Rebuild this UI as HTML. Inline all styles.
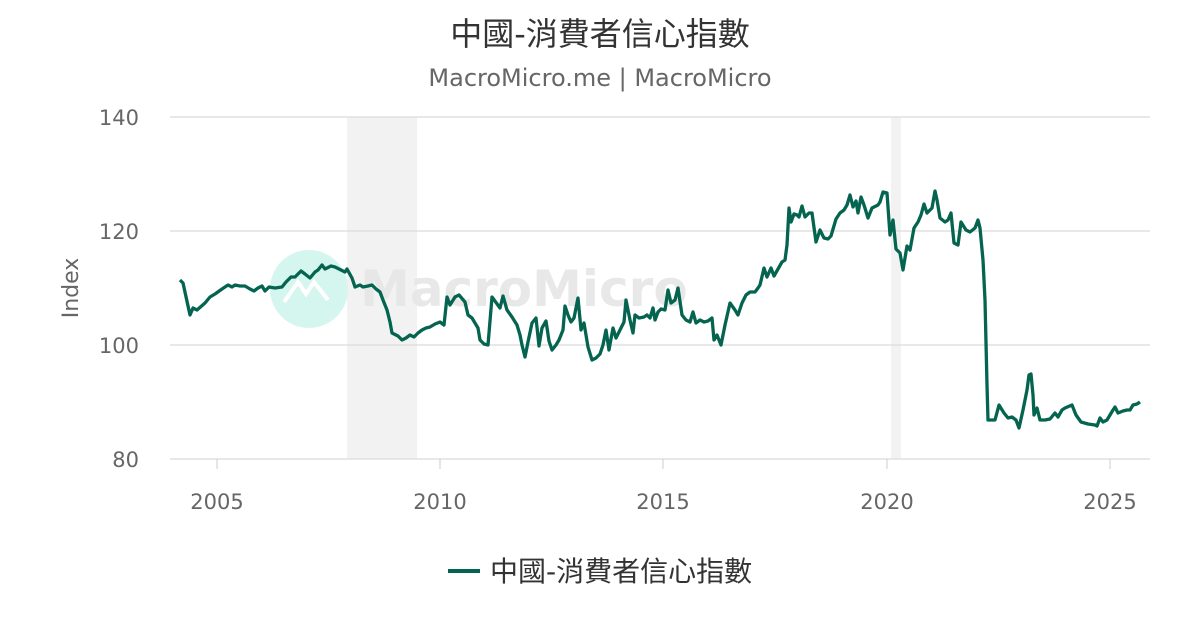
<!DOCTYPE html>
<html><head><meta charset="utf-8"><style>
body{margin:0;background:#fff;}
svg text{font-family:"DejaVu Sans","Noto Sans CJK TC",sans-serif;}
</style></head><body>
<svg width="1200" height="630" xmlns="http://www.w3.org/2000/svg">
<rect width="1200" height="630" fill="#fff"/>
<text x="600" y="45" text-anchor="middle" font-size="32" fill="#333">中國-消費者信心指數</text>
<text x="600" y="86" text-anchor="middle" font-size="24" fill="#666">MacroMicro.me | MacroMicro</text>
<rect x="347" y="117" width="70" height="342" fill="#f2f2f2"/>
<rect x="891" y="117" width="10" height="342" fill="#f2f2f2"/>
<g stroke="#e0e0e0" stroke-width="1.5">
<line x1="170" y1="117" x2="1150" y2="117"/>
<line x1="170" y1="231" x2="1150" y2="231"/>
<line x1="170" y1="345" x2="1150" y2="345"/>
<line x1="170" y1="459" x2="1150" y2="459"/>
</g>
<g stroke="#ccc" stroke-width="1">
<line x1="217" y1="459" x2="217" y2="469"/><line x1="440" y1="459" x2="440" y2="469"/>
<line x1="663" y1="459" x2="663" y2="469"/><line x1="887" y1="459" x2="887" y2="469"/>
<line x1="1110" y1="459" x2="1110" y2="469"/>
</g>
<g font-size="21" fill="#666" text-anchor="end">
<text x="139" y="125">140</text><text x="139" y="239">120</text>
<text x="139" y="353">100</text><text x="139" y="467">80</text>
</g>
<g font-size="21" fill="#666" text-anchor="middle">
<text x="217" y="509">2005</text><text x="440" y="509">2010</text>
<text x="663" y="509">2015</text><text x="887" y="509">2020</text>
<text x="1110" y="509">2025</text>
</g>
<text transform="translate(78,288) rotate(-90)" text-anchor="middle" font-size="22" fill="#666">Index</text>
<circle cx="309" cy="289" r="39" fill="#d5f5ef"/>
<path d="M284,302 L298,282 L306,294 L314,282 L328,300" stroke="#fff" stroke-width="4" fill="none"/>
<text x="360" y="306" font-size="50" font-weight="bold" fill="#e6e6e6" opacity="0.9">MacroMicro</text>
<polyline fill="none" stroke="#04644f" stroke-width="3.3" stroke-linejoin="round" points="180,280 183,283 190,315 193,308 197,310 205,303 210,297 215,294 222,289 228,285 232,287 235,285 240,286 245,286 250,289 254,291 258,288 262,286 265,291 269,287 275,288 282,287 286,282 291,277 295,277 301,271 305,274 310,278 315,272 318,270 322,265 325,269 331,266 335,267 345,272 347,269 352,278 355,287 360,285 363,287 368,286 372,285 376,289 380,292 383,300 387,310 390,322 392,333 398,336 402,340 406,338 410,335 414,337 418,333 422,330 426,328 430,327 435,324 440,322 444,325 447,297 450,305 455,297 459,295 465,302 468,315 472,318 478,328 480,340 484,344 488,345 492,297 500,308 503,296 507,310 512,317 517,325 520,335 522,345 525,357 528,342 532,323 536,318 539,346 542,328 546,321 549,341 552,350 556,345 559,340 563,330 565,306 568,315 571,322 574,318 578,298 581,330 584,323 588,347 592,360 596,358 600,354 603,345 606,330 609,350 613,328 616,338 620,330 624,322 626,300 630,320 633,333 635,315 639,318 644,317 647,315 650,318 653,308 655,320 658,312 661,309 665,310 668,290 671,303 675,300 678,288 682,315 686,320 690,322 693,312 696,323 700,320 704,322 708,321 712,318 714,340 717,335 721,345 725,325 730,303 735,310 738,315 742,303 746,295 750,292 755,292 758,288 760,285 764,268 767,277 771,268 774,276 778,269 782,262 785,260 787,245 789,208 791,222 794,214 797,215 799,217 802,206 805,217 809,213 812,213 816,242 820,230 824,238 828,239 831,236 836,219 840,213 844,210 847,205 850,195 853,207 856,201 858,213 861,197 864,205 868,218 872,208 878,205 880,202 883,192 887,193 890,235 893,220 896,249 900,253 903,270 907,246 910,250 914,228 918,222 921,215 924,204 927,213 932,208 935,191 937,200 940,218 945,222 948,220 951,213 954,243 958,245 961,222 966,230 970,232 975,228 978,220 980,228 983,260 985,300 987,385 988,420 995,420 999,405 1004,413 1008,418 1012,417 1016,420 1019,428 1023,410 1025,400 1027,390 1029,375 1031,374 1033,395 1034,415 1037,408 1040,420 1045,420 1050,419 1055,413 1058,417 1062,410 1065,408 1072,405 1076,415 1081,422 1088,424 1095,425 1097,426 1100,418 1103,422 1107,420 1113,410 1115,407 1118,413 1123,411 1127,410 1130,410 1133,405 1137,404 1140,402"/>
<line x1="448" y1="571" x2="480" y2="571" stroke="#04644f" stroke-width="4"/>
<text x="490" y="581" font-size="28" fill="#333">中國-消費者信心指數</text>
</svg>
</body></html>
